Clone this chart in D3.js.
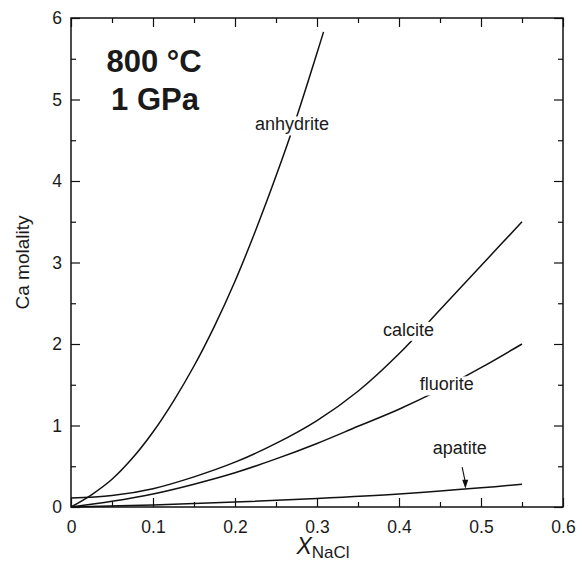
<!DOCTYPE html>
<html>
<head>
	<title>Ca molality vs XNaCl</title>
	<script type="text/javascript" src="https://cdnjs.cloudflare.com/ajax/libs/d3/7.8.5/d3.min.js"></script>
	<style>
		body { margin: 0; background: white; }
		text { font-family: "Liberation Sans", Arial, sans-serif; fill: #1a1a1a; }
	</style>
</head>
<body>
	<svg id="chart" width="585" height="563"></svg>
	<script type="text/javascript">
		// values (X NaCl vs Ca molality)
		var anhydriteX = [0, 0.025, 0.05, 0.075, 0.1, 0.125, 0.15, 0.175, 0.2, 0.225, 0.25, 0.275, 0.3, 0.308];
		var anhydriteY = [0, 0.15, 0.34, 0.60, 0.92, 1.30, 1.73, 2.22, 2.77, 3.39, 4.06, 4.78, 5.57, 5.83];

		var calciteX = [0, 0.05, 0.1, 0.15, 0.2, 0.25, 0.3, 0.35, 0.4, 0.45, 0.5, 0.55];
		var calciteY = [0.11, 0.14, 0.225, 0.37, 0.55, 0.78, 1.06, 1.42, 1.88, 2.42, 2.96, 3.50];

		var fluoriteX = [0, 0.05, 0.1, 0.15, 0.2, 0.25, 0.3, 0.35, 0.4, 0.45, 0.5, 0.55];
		var fluoriteY = [0, 0.07, 0.16, 0.28, 0.42, 0.59, 0.78, 0.99, 1.20, 1.44, 1.71, 2.0];

		var apatiteX = [0, 0.1, 0.2, 0.3, 0.4, 0.5, 0.55];
		var apatiteY = [0, 0.025, 0.06, 0.105, 0.16, 0.235, 0.28];

		var xTicks = [0, 0.1, 0.2, 0.3, 0.4, 0.5, 0.6];
		var xMinor = [0.05, 0.15, 0.25, 0.35, 0.45, 0.55];
		var yTicks = [0, 1, 2, 3, 4, 5, 6];
		var yMinor = [0.5, 1.5, 2.5, 3.5, 4.5, 5.5];

		// curve labels: [text, x, y] in data units
		var curveLabels = [
			["anhydrite", 0.2696, 4.62],
			["calcite", 0.4117, 2.10],
			["fluorite", 0.4583, 1.43],
			["apatite", 0.474, 0.655]
		];

		var svg = d3.select("#chart");
		var plotL = 71, plotR = 563, plotT = 18, plotB = 507;

		var x = d3.scaleLinear().domain([0, 0.6]).range([plotL, plotR]);
		var y = d3.scaleLinear().domain([0, 6]).range([plotB, plotT]);

		function zip(xs, ys) {
			return xs.map(function (d, i) { return [d, ys[i]]; });
		}

		var line = d3.line()
			.x(function (d) { return x(d[0]); })
			.y(function (d) { return y(d[1]); })
			.curve(d3.curveCatmullRom.alpha(0.5));

		var series = [zip(anhydriteX, anhydriteY), zip(calciteX, calciteY), zip(fluoriteX, fluoriteY), zip(apatiteX, apatiteY)];

		series.forEach(function (s) {
			svg.append("path")
				.attr("d", line(s))
				.attr("fill", "none")
				.attr("stroke", "#111")
				.attr("stroke-width", 1.5);
		});

		// labels with a white box behind, so the curve is broken there
		curveLabels.forEach(function (l) {
			var g = svg.append("g");
			var t = g.append("text")
				.attr("x", x(l[1]))
				.attr("y", y(l[2]))
				.attr("text-anchor", "middle")
				.attr("font-size", 18)
				.text(l[0]);
			var bb = t.node().getBBox();
			if (l[0] != "apatite") {
				g.insert("rect", "text")
					.attr("x", bb.x - 2)
					.attr("y", bb.y + 2)
					.attr("width", bb.width + 4)
					.attr("height", bb.height - 1)
					.attr("fill", "white");
			}
		});

		// apatite arrow
		var tipX = 0.481, tipY = 0.225;
		svg.append("line")
			.attr("x1", x(0.477))
			.attr("y1", y(0.49))
			.attr("x2", x(tipX))
			.attr("y2", y(tipY) - 6)
			.attr("stroke", "#111")
			.attr("stroke-width", 1.1);
		svg.append("path")
			.attr("d", "M" + x(tipX) + "," + y(tipY) + " l-3.2,-9 l6,0 z")
			.attr("fill", "#111");

		// frame
		svg.append("rect")
			.attr("x", plotL)
			.attr("y", plotT)
			.attr("width", plotR - plotL)
			.attr("height", plotB - plotT)
			.attr("fill", "none")
			.attr("stroke", "#111")
			.attr("stroke-width", 1.5);

		// axes, ticks pointing inward
		var fmt = function (d) { return d == 0 ? "0" : d3.format(".1f")(d); };

		svg.append("g")
			.attr("transform", "translate(0," + plotB + ")")
			.call(d3.axisBottom(x).tickValues(xTicks).tickFormat(fmt).tickSizeInner(-9).tickSizeOuter(0).tickPadding(14));
		svg.append("g")
			.attr("transform", "translate(" + plotL + ",0)")
			.call(d3.axisLeft(y).tickValues(yTicks).tickFormat(d3.format("d")).tickSizeInner(-9).tickSizeOuter(0).tickPadding(9));

		svg.append("g")
			.attr("transform", "translate(0," + plotT + ")")
			.call(d3.axisTop(x).tickValues(xTicks).tickFormat("").tickSizeInner(-9).tickSizeOuter(0));
		svg.append("g")
			.attr("transform", "translate(" + plotR + ",0)")
			.call(d3.axisRight(y).tickValues(yTicks).tickFormat("").tickSizeInner(-9).tickSizeOuter(0));

		svg.append("g").attr("transform", "translate(0," + plotB + ")")
			.call(d3.axisBottom(x).tickValues(xMinor).tickFormat("").tickSizeInner(-5).tickSizeOuter(0));
		svg.append("g").attr("transform", "translate(0," + plotT + ")")
			.call(d3.axisTop(x).tickValues(xMinor).tickFormat("").tickSizeInner(-5).tickSizeOuter(0));
		svg.append("g").attr("transform", "translate(" + plotL + ",0)")
			.call(d3.axisLeft(y).tickValues(yMinor).tickFormat("").tickSizeInner(-5).tickSizeOuter(0));
		svg.append("g").attr("transform", "translate(" + plotR + ",0)")
			.call(d3.axisRight(y).tickValues(yMinor).tickFormat("").tickSizeInner(-5).tickSizeOuter(0));

		svg.selectAll(".domain").remove();
		svg.selectAll(".tick line").attr("stroke", "#111").attr("stroke-width", 1.2);
		svg.selectAll(".tick text")
			.attr("font-size", 17.5)
			.attr("font-family", "Liberation Sans, Arial, sans-serif")
			.attr("fill", "#1a1a1a");

		// axis titles
		svg.append("text")
			.attr("transform", "translate(29," + ((plotT + plotB) / 2) + ") rotate(-90)")
			.attr("text-anchor", "middle")
			.attr("font-size", 19)
			.text("Ca molality");

		var xt = svg.append("text")
			.attr("x", 323)
			.attr("y", 554)
			.attr("text-anchor", "middle");
		xt.append("tspan").attr("font-size", 23).attr("font-style", "italic").text("X");
		xt.append("tspan").attr("font-size", 17).attr("dy", 4).text("NaCl");

		// conditions
		svg.append("text")
			.attr("x", 154)
			.attr("y", 72)
			.attr("text-anchor", "middle")
			.attr("font-size", 31)
			.attr("font-weight", "bold")
			.text("800 °C");
		svg.append("text")
			.attr("x", 155)
			.attr("y", 110)
			.attr("text-anchor", "middle")
			.attr("font-size", 31)
			.attr("font-weight", "bold")
			.text("1 GPa");
	</script>
</body>
</html>
